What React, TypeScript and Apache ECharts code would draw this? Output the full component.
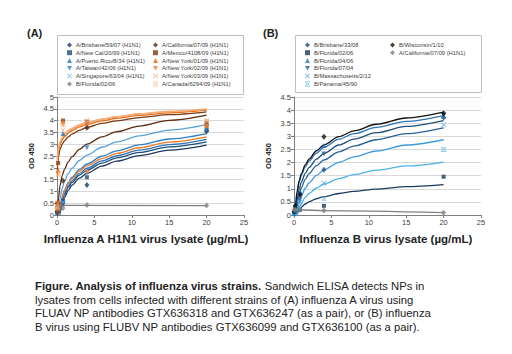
import React, { useEffect, useRef } from "react";
import * as echarts from "echarts";

// x positions of fitted trend curves and of measured doses (µg/mL)
const curveX = [0.032, 0.1, 0.2, 0.4, 0.7, 1, 1.5, 2, 3, 4, 6, 8, 11, 15, 20];
const doseX = [0.032, 0.16, 0.8, 4, 20];

// ---------- Panel A ----------
const aNames = [
  "A/Brisbane/59/07 (H1N1)",
  "A/New Cal/20/99 (H1N1)",
  "A/Puerto Rico/8/34 (H1N1)",
  "A/Taiwan/42/06 (H1N1)",
  "A/Singapore/63/04 (H1N1)",
  "B/Florida/02/06",
  "A/California/07/09 (H1N1)",
  "A/Mexico/4108/09 (H1N1)",
  "A/New York/01/09 (H1N1)",
  "A/New York/02/09 (H1N1)",
  "A/New York/03/09 (H1N1)",
  "A/Canada/6294/09 (H1N1)",
];
const aPoints = [
  [0.1, 0.3, 0.5, 1.27, 3.55],
  [0.1, 0.35, 0.6, 1.6, 3.6],
  [0.15, 0.45, 3.45, 3.75, 3.65],
  [0.1, 0.3, 0.5, 2.85, 3.7],
  [0.1, 0.4, 0.55, 1.75, 3.75],
  [0.3, 0.3, 0.3, 0.42, 0.4],
  [0.15, 0.5, 1.45, 3.7, 3.85],
  [0.5, 2.2, 4.0, 3.95, 3.9],
  [0.45, 1.9, 3.95, 3.9, 3.8],
  [0.2, 0.5, 3.85, 1.8, 3.75],
  [0.3, 1.7, 3.6, 4.0, 4.0],
  [0.35, 1.75, 3.85, 3.95, 3.95],
];
const aCurves: (number[] | null)[] = [
  [-1.8, -0.96, -0.45, 0.07, 0.48, 0.74, 1.04, 1.26, 1.56, 1.77, 2.07, 2.28, 2.52, 2.75, 2.96],
  [-1.7, -0.85, -0.33, 0.18, 0.6, 0.87, 1.17, 1.38, 1.69, 1.9, 2.2, 2.42, 2.65, 2.89, 3.1],
  [-1.68, -0.82, -0.29, 0.23, 0.66, 0.93, 1.24, 1.45, 1.76, 1.98, 2.29, 2.51, 2.75, 2.98, 3.2],
  [-1.71, -0.8, -0.24, 0.31, 0.76, 1.05, 1.37, 1.6, 1.93, 2.16, 2.49, 2.72, 2.97, 3.22, 3.45],
  [-1.33, -0.42, 0.14, 0.69, 1.14, 1.43, 1.75, 1.98, 2.31, 2.54, 2.87, 3.1, 3.35, 3.6, 3.83],
  null,
  [-0.69, 0.18, 0.71, 1.24, 1.67, 1.94, 2.25, 2.47, 2.78, 3.0, 3.31, 3.53, 3.77, 4.01, 4.23],
  [1.73, 2.2, 2.48, 2.77, 3.0, 3.14, 3.31, 3.43, 3.59, 3.71, 3.88, 3.99, 4.13, 4.25, 4.37],
  [2.04, 2.46, 2.72, 2.98, 3.19, 3.32, 3.47, 3.58, 3.73, 3.84, 3.99, 4.1, 4.22, 4.33, 4.44],
  [-1.61, -0.74, -0.21, 0.32, 0.75, 1.02, 1.33, 1.55, 1.86, 2.08, 2.39, 2.61, 2.85, 3.09, 3.31],
  [2.16, 2.57, 2.82, 3.07, 3.27, 3.4, 3.55, 3.65, 3.8, 3.9, 4.05, 4.15, 4.27, 4.38, 4.48],
  [2.22, 2.62, 2.87, 3.11, 3.31, 3.44, 3.58, 3.68, 3.83, 3.93, 4.07, 4.18, 4.29, 4.4, 4.5],
];
const aGrayCurveX = [0.16, 20];
const aGrayCurveY = [0.41, 0.4];

// ---------- Panel B ----------
const bNames = [
  "B/Brisbane/33/08",
  "B/Florida/02/06",
  "B/Florida/04/06",
  "B/Florida/07/04",
  "B/Massachusetts/2/12",
  "B/Panama/45/90",
  "B/Wisconsin/1/10",
  "A/California/07/09 (H1N1)",
];
const bPoints = [
  [0.1, 0.3, 0.8, 1.73, 3.72],
  [0.05, 0.12, 0.2, 0.35, 1.46],
  [0.1, 0.2, 0.9, 2.65, 3.77],
  [0.08, 0.18, 0.6, 2.33, 3.8],
  [0.07, 0.15, 0.5, 1.22, 3.43],
  [0.05, 0.1, 0.3, 0.63, 2.5],
  [0.12, 0.35, 0.78, 2.98, 3.88],
  [0.2, 0.2, 0.2, 0.17, 0.09],
];
const bCurves: (number[] | null)[] = [
  [-1.4, -0.52, 0.02, 0.56, 1.0, 1.27, 1.59, 1.81, 2.13, 2.35, 2.67, 2.89, 3.14, 3.38, 3.6],
  [-0.68, -0.35, -0.16, 0.04, 0.2, 0.3, 0.42, 0.5, 0.62, 0.7, 0.82, 0.9, 0.99, 1.08, 1.16],
  [-1.05, -0.19, 0.33, 0.85, 1.27, 1.54, 1.84, 2.06, 2.36, 2.58, 2.89, 3.1, 3.34, 3.57, 3.79],
  [-1.56, -0.7, -0.17, 0.35, 0.78, 1.05, 1.36, 1.58, 1.88, 2.1, 2.41, 2.63, 2.87, 3.1, 3.32],
  [-1.73, -0.92, -0.42, 0.07, 0.47, 0.73, 1.02, 1.22, 1.51, 1.72, 2.01, 2.22, 2.44, 2.67, 2.87],
  [-1.34, -0.75, -0.38, -0.02, 0.27, 0.46, 0.67, 0.82, 1.03, 1.18, 1.39, 1.54, 1.71, 1.87, 2.02],
  [-1.08, -0.2, 0.34, 0.88, 1.32, 1.59, 1.91, 2.13, 2.45, 2.67, 2.99, 3.21, 3.46, 3.7, 3.92],
  null,
];
const bGrayCurveX = [0.16, 4, 20];
const bGrayCurveY = [0.2, 0.17, 0.09];

const xTicksMax = 25;
const aYMax = 5;
const bYMax = 4.5;

const captionLines = [
  "lysates from cells infected with different strains of (A) influenza A virus using",
  "FLUAV NP antibodies GTX636318 and GTX636247 (as a pair), or (B) influenza",
  "B virus using FLUBV NP antibodies GTX636099 and GTX636100 (as a pair).",
];

// ---------- styling ----------
const FONT = "Liberation Sans, Arial, sans-serif";
const SYM_X = "path://M1,0L5,4L9,0L10,1L6,5L10,9L9,10L5,6L1,10L0,9L4,5L0,1Z";
const SYM_STAR =
  "path://M0,0H10V1.2H0Z M1.2,1.2L5,4.2L8.8,1.2L10,2.2L6,5L10,7.8L8.8,8.8L5,5.8L1.2,8.8L0,7.8L4,5L0,2.2Z M0,8.8H10V10H0Z";
const SYM_INV = "path://M0,0L10,0L5,9Z";

const aStyle = [
  { color: "#1f3864", symbol: "diamond", size: [5, 6] },
  { color: "#1f4e79", symbol: "rect", size: 4 },
  { color: "#2e75b6", symbol: "triangle", size: 5 },
  { color: "#2a7fc9", symbol: SYM_INV, size: 5 },
  { color: "#5aa3dc", symbol: SYM_X, size: 5 },
  { color: "#7f7f7f", symbol: "diamond", size: [5, 6] },
  { color: "#5a2a0c", symbol: "diamond", size: [5, 6] },
  { color: "#7b3a12", symbol: "rect", size: 4 },
  { color: "#e56b10", symbol: "triangle", size: 5 },
  { color: "#ee7a28", symbol: SYM_INV, size: 5 },
  { color: "#f2a060", symbol: SYM_X, size: 5 },
  { color: "#f5b080", symbol: SYM_STAR, size: 5 },
];
const bStyle = [
  { color: "#1f4e79", symbol: "diamond", size: [5, 6] },
  { color: "#1b3a5c", symbol: "rect", size: 4 },
  { color: "#2e75b6", symbol: "triangle", size: 5 },
  { color: "#24629a", symbol: SYM_INV, size: 5 },
  { color: "#3d9ae0", symbol: SYM_X, size: 5 },
  { color: "#4fb0e6", symbol: SYM_STAR, size: 5 },
  { color: "#111111", symbol: "diamond", size: [5, 6] },
  { color: "#808080", symbol: "diamond", size: [5, 6] },
];

function buildPanel(
  prefix: string,
  idx: number,
  names: string[],
  points: number[][],
  curves: (number[] | null)[],
  grayX: number[],
  grayY: number[],
  styles: any[]
) {
  const series: any[] = [];
  names.forEach((n, i) => {
    const st = styles[i];
    const cData = curves[i]
      ? curveX.map((x, j) => [x, (curves[i] as number[])[j]])
      : grayX.map((x, j) => [x, grayY[j]]);
    series.push({
      type: "line",
      name: prefix + "curve" + i,
      xAxisIndex: idx,
      yAxisIndex: idx,
      data: cData,
      showSymbol: false,
      smooth: 0.3,
      smoothMonotone: "x",
      clip: true,
      silent: true,
      lineStyle: { color: st.color, width: 1.3 },
      itemStyle: { color: st.color },
      z: 2,
    });
    series.push({
      type: "scatter",
      name: prefix + n,
      xAxisIndex: idx,
      yAxisIndex: idx,
      data: doseX.map((x, j) => [x, points[i][j]]),
      symbol: st.symbol,
      symbolSize: st.size,
      itemStyle: { color: st.color },
      silent: true,
      z: 3,
    });
  });
  return series;
}

function mkLegend(prefix: string, names: string[], styles: any[], left: number, top: number) {
  return {
    orient: "vertical",
    left,
    top,
    padding: 0,
    itemGap: 0,
    itemWidth: 5,
    itemHeight: 5,
    selectedMode: false,
    formatter: (n: string) => n.slice(prefix.length),
    textStyle: { fontSize: 5.8, lineHeight: 7.8, color: "#404040", fontFamily: FONT, padding: [0, 0, 0, -1] },
    data: names.map((n, k) => ({ name: prefix + n, icon: styles[k].symbol })),
  };
}

function axisCommon() {
  return {
    axisLine: { show: true, lineStyle: { color: "#808080", width: 1 } },
    axisTick: { show: true, length: 3, lineStyle: { color: "#808080" } },
    axisLabel: { color: "#404040", fontSize: 7.5, fontFamily: FONT, margin: 3 },
  };
}

export default function App() {
  const ref = useRef<HTMLDivElement>(null);
  useEffect(() => {
    const chart = echarts.init(ref.current!, null, { renderer: "svg" });
    const series = [
      ...buildPanel("A|", 0, aNames, aPoints, aCurves, aGrayCurveX, aGrayCurveY, aStyle),
      ...buildPanel("B|", 1, bNames, bPoints, bCurves, bGrayCurveX, bGrayCurveY, bStyle),
    ];
    const option: any = {
      animation: false,
      backgroundColor: "#ffffff",
      textStyle: { fontFamily: FONT },
      grid: [
        { left: 57, right: 268, top: 97, bottom: 139, containLabel: false },
        { left: 294, right: 31, top: 97, bottom: 139, containLabel: false },
      ],
      xAxis: [0, 1].map((g) => ({
        type: "value",
        gridIndex: g,
        min: 0,
        max: xTicksMax,
        interval: 5,
        splitLine: { show: false },
        ...axisCommon(),
      })),
      yAxis: [0, 1].map((g) => ({
        type: "value",
        gridIndex: g,
        min: 0,
        max: g === 0 ? aYMax : bYMax,
        interval: 0.5,
        name: "OD 450",
        nameLocation: "middle",
        nameGap: 22,
        nameTextStyle: { fontSize: 7.5, fontWeight: "bold", color: "#222", fontFamily: FONT },
        splitLine: { show: true, lineStyle: { color: "#d9d9d9", width: 1 } },
        ...axisCommon(),
      })),
      legend: [
        mkLegend("A|", aNames.slice(0, 6), aStyle.slice(0, 6), 67, 41),
        mkLegend("A|", aNames.slice(6), aStyle.slice(6), 153, 41),
        mkLegend("B|", bNames.slice(0, 6), bStyle.slice(0, 6), 305, 41),
        mkLegend("B|", bNames.slice(6), bStyle.slice(6), 390, 41),
      ],
      graphic: [
        { type: "rect", shape: { x: 57.5, y: 35.5, width: 186, height: 59 }, style: { fill: "none", stroke: "#bfbfbf", lineWidth: 1 }, z: -1 },
        { type: "rect", shape: { x: 295.5, y: 35.5, width: 186, height: 57 }, style: { fill: "none", stroke: "#bfbfbf", lineWidth: 1 }, z: -1 },
        { type: "text", x: 27, y: 33, style: { text: "(A)", fontSize: 11, fontWeight: "bold", fill: "#222", fontFamily: FONT, textVerticalAlign: "middle" } },
        { type: "text", x: 263, y: 33, style: { text: "(B)", fontSize: 11, fontWeight: "bold", fill: "#222", fontFamily: FONT, textVerticalAlign: "middle" } },
        { type: "text", x: 146, y: 239, style: { text: "Influenza A H1N1 virus lysate (µg/mL)", fontSize: 11.5, fontWeight: "bold", fill: "#222", fontFamily: FONT, textAlign: "center", textVerticalAlign: "middle" } },
        { type: "text", x: 386, y: 239, style: { text: "Influenza B virus lysate (µg/mL)", fontSize: 11.5, fontWeight: "bold", fill: "#222", fontFamily: FONT, textAlign: "center", textVerticalAlign: "middle" } },
        {
          type: "text",
          x: 35,
          y: 286,
          style: {
            text: "{b|Figure. Analysis of influenza virus strains.} Sandwich ELISA detects NPs in",
            fontSize: 11.3,
            fill: "#222",
            fontFamily: FONT,
            textVerticalAlign: "middle",
            rich: { b: { fontSize: 11.3, fontWeight: "bold", fill: "#222", fontFamily: FONT } },
          },
        },
        ...captionLines.map((t, i) => ({
          type: "text",
          x: 35,
          y: 299.5 + i * 13.5,
          style: { text: t, fontSize: 11.3, fill: "#222", fontFamily: FONT, textVerticalAlign: "middle" },
        })),
      ],
      series,
    };
    chart.setOption(option);
    return () => chart.dispose();
  }, []);
  return <div ref={ref} style={{ position: "fixed", left: 0, top: 0, width: 512, height: 354 }} />;
}
